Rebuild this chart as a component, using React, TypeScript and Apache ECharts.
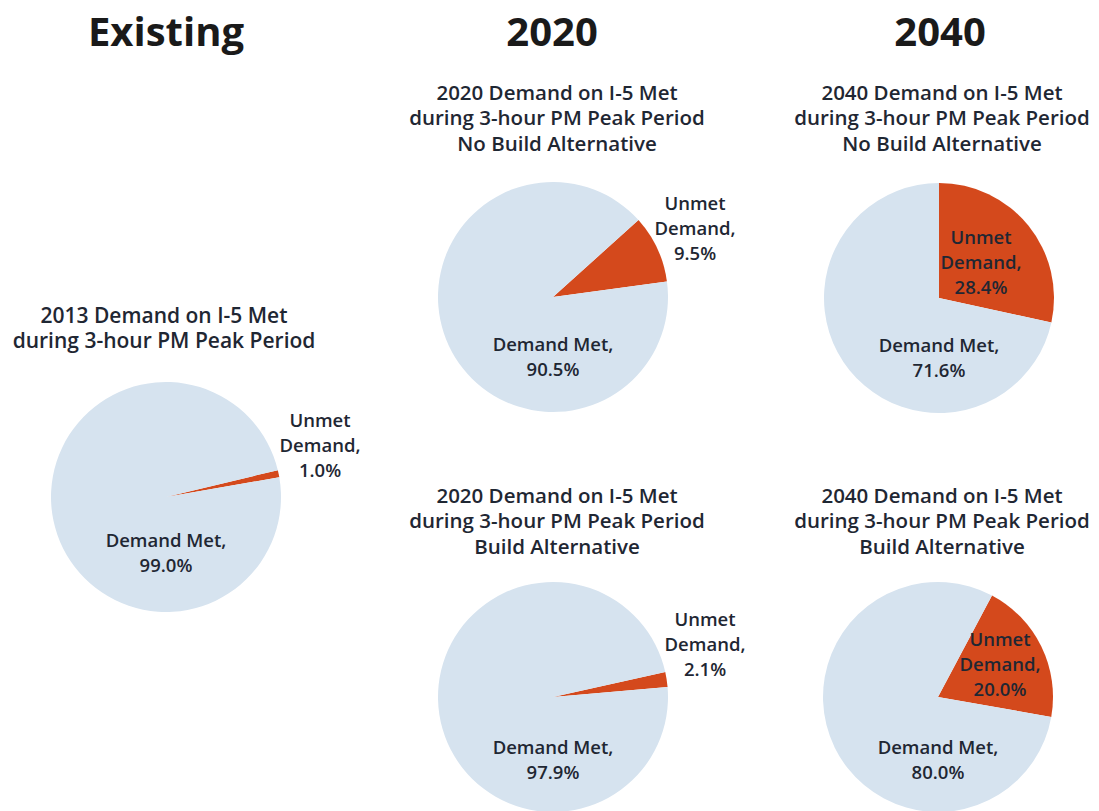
import React, { useEffect, useRef } from "react";
import * as echarts from "echarts";

// ---- data ----
const headers = ["Existing", "2020", "2040"];
const pieTitles = [
  "2013 Demand on I-5 Met\nduring 3-hour PM Peak Period",
  "2020 Demand on I-5 Met\nduring 3-hour PM Peak Period\nNo Build Alternative",
  "2040 Demand on I-5 Met\nduring 3-hour PM Peak Period\nNo Build Alternative",
  "2020 Demand on I-5 Met\nduring 3-hour PM Peak Period\nBuild Alternative",
  "2040 Demand on I-5 Met\nduring 3-hour PM Peak Period\nBuild Alternative",
];
const categories = ["Unmet Demand", "Demand Met"];
const unmetValues = [1.0, 9.5, 28.4, 2.1, 20.0];
const metValues = [99.0, 90.5, 71.6, 97.9, 80.0];

// ---- layout / style ----
const FONT = "'Open Sans', 'Noto Sans', sans-serif";
const TEXT = "#1f2733";
const BLUE = "#d6e3ef";
const RED = "#d4491c";
const R = 115;
const headerPos = [
  [166, 30],
  [552, 30],
  [940, 30],
];
const titlePos = [
  [164, 302],
  [557, 79],
  [942, 79],
  [557, 482],
  [942, 482],
];
const titleSize = [21, 20.5, 20.5, 20.5, 20.5];
const pieLayout = [
  { center: [166, 497], start: 13.5, metDy: 55, unmetDx: 154, unmetDy: -53 },
  { center: [553, 297], start: 42, metDy: 59, unmetDx: 142, unmetDy: -70 },
  { center: [939, 298], start: 90, metDy: 59, unmetDx: 42, unmetDy: -37 },
  { center: [553, 697], start: 12.5, metDy: 62, unmetDx: 152, unmetDy: -54 },
  { center: [938, 697], start: 62, metDy: 62, unmetDx: 62, unmetDy: -34 },
];

export default function App() {
  const ref = useRef<HTMLDivElement>(null);
  useEffect(() => {
    if (!ref.current) return;
    const chart = echarts.init(ref.current, undefined, { renderer: "svg" });
    const graphics: any[] = [];
    headers.forEach((h, i) => {
      graphics.push({
        type: "text",
        x: headerPos[i][0],
        y: headerPos[i][1],
        style: {
          text: h,
          font: `bold 40px ${FONT}`,
          fill: "#1a1a1a",
          textAlign: "center",
          textVerticalAlign: "middle",
        },
      });
    });
    pieTitles.forEach((t, i) => {
      graphics.push({
        type: "text",
        x: titlePos[i][0],
        y: titlePos[i][1],
        style: {
          text: t,
          font: `600 ${titleSize[i]}px ${FONT}`,
          lineHeight: 25.5,
          fill: TEXT,
          textAlign: "center",
          textVerticalAlign: "top",
        },
      });
    });
    const series = pieLayout.map((p, i) => ({
      type: "pie",
      center: p.center,
      radius: R,
      startAngle: p.start,
      clockwise: true,
      silent: true,
      avoidLabelOverlap: false,
      labelLine: { show: false },
      itemStyle: { borderWidth: 0 },
      label: {
        show: true,
        position: "center",
        fontFamily: FONT,
        fontWeight: 600,
        fontSize: 18.5,
        lineHeight: 25,
        color: TEXT,
        formatter: (prm: any) =>
          prm.dataIndex === 0
            ? `Unmet\nDemand,\n${prm.value.toFixed(1)}%`
            : `Demand Met,\n${prm.value.toFixed(1)}%`,
      },
      labelLayout: (prm: any) =>
        prm.dataIndex === 0
          ? { dx: p.unmetDx, dy: p.unmetDy }
          : { dx: 0, dy: p.metDy },
      data: [
        { name: categories[0], value: unmetValues[i], itemStyle: { color: RED } },
        { name: categories[1], value: metValues[i], itemStyle: { color: BLUE } },
      ],
    }));
    chart.setOption({
      animation: false,
      backgroundColor: "#ffffff",
      graphic: graphics,
      series,
    });
    return () => chart.dispose();
  }, []);
  return (
    <div
      ref={ref}
      style={{ position: "absolute", left: 0, top: 0, width: 1099, height: 811 }}
    />
  );
}
